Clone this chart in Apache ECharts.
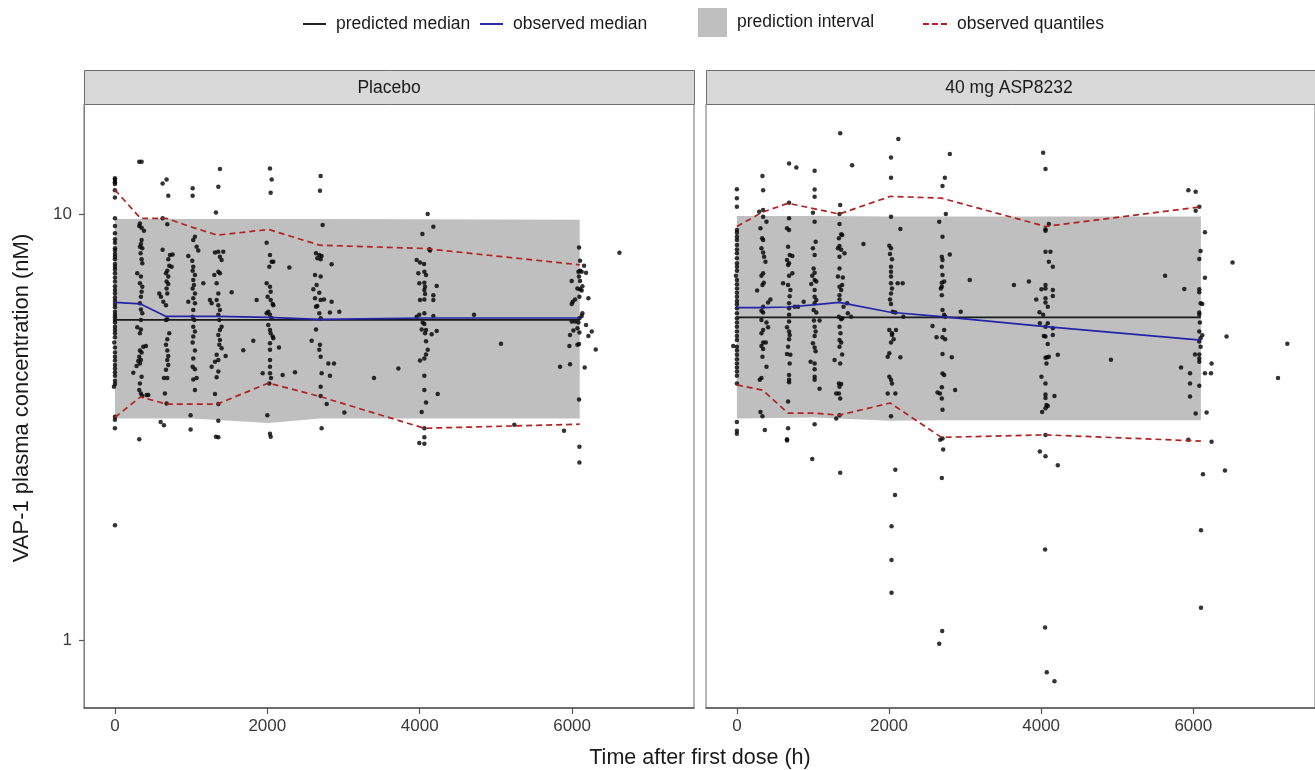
<!DOCTYPE html>
<html>
<head>
<meta charset="utf-8">
<script src="https://cdn.jsdelivr.net/npm/echarts@6/dist/echarts.min.js"></script>
<style>
  html, body {margin: 0; padding: 0; background: #fff;}
  #main {width: 1315px; height: 770px;}
</style>
</head>
<body>
<div id="main"></div>
<script>
// tick labels
var timeTicks = [0, 2000, 4000, 6000];
var concTicks = [1, 10];

// nodes of the median / quantile lines (h)
var binTimes = [0, 336, 672, 1008, 1344, 2016, 2688, 4060, 6100];

var placeboPredMedian = [5.64, 5.64, 5.64, 5.64, 5.64, 5.64, 5.64, 5.64, 5.64];
var placeboObsMedian = [6.2, 6.15, 5.75, 5.75, 5.75, 5.72, 5.66, 5.7, 5.7];
var placeboObsUpper = [11.4, 9.77, 9.77, 9.32, 8.92, 9.2, 8.45, 8.3, 7.6];
var placeboObsLower = [3.33, 3.72, 3.58, 3.58, 3.58, 4.01, 3.73, 3.14, 3.21];

var aspPredMedian = [5.72, 5.72, 5.72, 5.72, 5.72, 5.72, 5.72, 5.72, 5.72];
var aspObsMedian = [6.03, 6.03, 6.05, 6.12, 6.2, 5.88, 5.74, 5.44, 5.06];
var aspObsUpper = [9.35, 10.1, 10.6, 10.3, 10.0, 11.0, 10.9, 9.35, 10.4];
var aspObsLower = [3.97, 3.86, 3.41, 3.41, 3.37, 3.6, 2.99, 3.03, 2.93];

// prediction interval
var bandTimes = [0, 1008, 2016, 2688, 6100];
var placeboPiLower = [3.31, 3.31, 3.23, 3.31, 3.31];
var placeboPiUpper = [9.73, 9.73, 9.73, 9.73, 9.7];
var aspPiLower = [3.31, 3.33, 3.27, 3.28, 3.28];
var aspPiUpper = [9.9, 9.9, 9.87, 9.87, 9.87];

// observations [time (h), concentration (nM)]
var placeboObs = [
  [0,12.13],[0,12.02],[0,11.87],[0,11.76],[0,11.38],[0,10.94],[0,9.77],[0,9.37],[0,9.01],[0,8.72],
  [0,8.56],[0,8.31],[0,8.21],[0,8.06],[0,7.94],[0,7.83],[0,7.63],[0,7.52],[0,7.41],[0,7.26],
  [0,7.1],[0,6.94],[0,6.77],[0,6.63],[0,6.51],[0,6.37],[0,6.26],[0,6.15],[0,6.04],[0,5.9],
  [0,5.8],[0,5.72],[0,5.64],[0,5.56],[0,5.44],[0,5.34],[0,5.25],[0,5.14],[-9,4.99],[0,4.86],
  [0,4.73],[0,4.62],[0,4.53],[0,4.42],[0,4.34],[0,4.25],[0,4.17],[0,4.06],[0,3.99],[-13,3.93],
  [0,3.34],[0,3.29],[0,3.14],[0,1.86],
  [319,13.27],[350,13.27],[328,9.5],[319,9.37],[350,9.29],[381,9.14],[350,8.69],[341,8.5],[328,8.38],[359,8.31],
  [337,8.09],[350,7.83],[359,7.66],[293,7.26],[341,7.13],[328,6.88],[359,6.75],[350,6.57],[341,6.39],[328,6.17],
  [341,5.97],[359,5.85],[341,5.64],[293,5.42],[341,5.36],[328,5.25],[372,4.88],[407,4.9],[328,4.78],[350,4.73],
  [319,4.62],[341,4.54],[328,4.46],[306,4.52],[284,4.4],[241,4.24],[350,4.15],[328,4.0],[319,3.86],[341,3.79],
  [359,3.74],[416,3.76],[438,3.76],[319,2.96],
  [626,11.8],[678,12.06],[700,11.04],[626,9.77],[687,9.46],[626,8.24],[722,8.01],[757,8.04],[700,7.83],[713,7.56],
  [744,7.52],[687,7.36],[670,7.26],[700,7.13],[678,6.94],[700,6.85],[678,6.69],[687,6.51],[582,6.51],[604,6.39],
  [635,6.22],[670,6.11],[687,5.66],[670,5.64],[713,5.25],[687,5.08],[670,4.93],[687,4.78],[700,4.64],[687,4.54],
  [700,4.42],[670,4.31],[643,4.12],[687,4.12],[656,3.79],[678,3.59],[600,3.25],[643,3.19],
  [1020,11.49],[1020,11.04],[1050,8.85],[1028,8.69],[1072,8.38],[1094,8.21],[963,7.97],[1015,7.77],[1028,7.52],[1020,7.36],
  [1050,7.19],[1028,7.0],[1037,6.81],[1020,6.69],[1160,6.88],[1050,6.51],[1028,6.34],[1050,6.17],[963,6.22],[1028,5.95],
  [1020,5.74],[1042,5.64],[1028,5.44],[1050,5.3],[1028,5.16],[1020,4.99],[1050,4.78],[1028,4.58],[1020,4.38],[1050,4.32],
  [1028,4.09],[1072,4.12],[1050,3.86],[993,3.37],[993,3.12],
  [1378,12.75],[1357,11.59],[1326,10.09],[1357,8.16],[1313,8.12],[1422,8.16],[1378,7.94],[1400,7.8],[1357,7.32],[1378,7.26],
  [1304,7.19],[1335,6.88],[1357,6.51],[1335,6.28],[1247,6.28],[1269,6.17],[1357,6.11],[1378,5.95],[1357,5.8],[1370,5.64],
  [1400,5.44],[1378,5.34],[1357,5.2],[1378,5.06],[1370,4.93],[1400,4.84],[1453,4.64],[1335,4.67],[1357,4.54],[1313,4.5],
  [1269,4.38],[1357,4.27],[1335,4.14],[1313,3.78],[1357,3.58],[1357,3.27],[1326,3.0],[1357,2.99],
  [1532,6.55],[1685,4.79],[1816,5.04],[1860,6.28],[1939,4.23],[2153,4.86],[2201,4.19],[2289,7.49],[2363,4.25],
  [2035,12.8],[2057,12.06],[2044,11.22],[1991,8.56],[2035,8.01],[2057,7.73],[2079,7.73],[2026,7.52],[1991,6.88],[2035,6.75],
  [2044,6.57],[2004,6.39],[2044,6.28],[2070,6.15],[2079,6.11],[2013,5.9],[1991,5.85],[2035,5.8],[2057,5.69],[2013,5.49],
  [2035,5.34],[2044,5.25],[2070,5.16],[2079,5.11],[2035,4.97],[2035,4.8],[2035,4.54],[2035,4.38],[2035,4.23],[2048,4.12],
  [2026,4.0],[2000,3.37],[2035,3.05],[2044,3.0],
  [2700,12.28],[2691,11.34],[2726,9.42],[2639,8.09],[2682,8.01],[2713,7.97],[2656,7.87],[2700,7.83],[2844,7.62],[2626,7.19],
  [2700,7.13],[2647,6.81],[2604,6.66],[2682,6.53],[2626,6.34],[2700,6.28],[2744,6.3],[2656,6.08],[2639,6.06],[2844,6.22],
  [2822,5.87],[2945,5.9],[2682,5.85],[2700,5.69],[2639,5.36],[2582,5.04],[2691,4.93],[2682,4.8],[2700,4.62],[2801,4.46],
  [2875,4.46],[2713,4.23],[2822,4.17],[2700,3.93],[2700,3.74],[2779,3.58],[3011,3.42],[2713,3.14],
  [3400,4.12],[3720,4.34],
  [4105,10.0],[4179,9.34],[4035,8.98],[4127,8.27],[4135,8.21],[3960,7.8],[4004,7.7],[4057,7.63],[4061,7.32],[3982,7.26],
  [4083,7.19],[3995,6.88],[4061,6.9],[4070,6.75],[4061,6.63],[4223,6.78],[4070,6.49],[4179,6.45],[4004,6.28],[4061,6.3],
  [4179,6.28],[3995,5.8],[4061,5.85],[4179,5.76],[3960,5.74],[4039,5.56],[4061,5.52],[4026,5.36],[4083,5.34],[4070,5.25],
  [4157,5.22],[4223,5.31],[4083,5.03],[4105,4.8],[4083,4.68],[4061,4.58],[4004,4.53],[4061,4.17],[4061,3.86],[4236,3.78],
  [4083,3.61],[4026,3.43],[4061,3.14],[4061,2.99],[3995,2.9],[4061,2.89],
  [4713,5.8],[5067,4.96],[5242,3.2],[5894,3.1],[5842,4.38],[6621,8.11],
  [6091,8.34],[6157,7.56],[6105,7.77],[6105,7.36],[6083,7.32],[6126,7.32],[6183,7.28],[6091,7.13],[5995,6.96],[6105,6.96],
  [6135,6.77],[6070,6.69],[6105,6.66],[6126,6.61],[6214,6.34],[6096,6.39],[6039,6.3],[6009,6.22],[5995,6.15],[6135,5.85],
  [6126,5.76],[6096,5.69],[5995,5.59],[6039,5.59],[6083,5.56],[6183,5.49],[6017,5.33],[6070,5.39],[6096,5.27],[6258,5.3],
  [6214,5.17],[5973,5.2],[6091,4.95],[6070,4.93],[5964,4.9],[6310,4.81],[5973,4.44],[6165,4.36],[6091,3.67],[6096,2.84],
  [6096,2.61]
];

var aspObs = [
  [0,11.44],[0,10.89],[0,10.4],[0,9.17],[0,9.04],[0,8.85],[0,8.69],[0,8.46],[0,8.26],[0,8.09],
  [0,7.87],[0,7.66],[0,7.52],[0,7.36],[-13,7.16],[0,7.0],[0,6.84],[0,6.69],[0,6.53],[0,6.39],
  [0,6.25],[0,6.14],[0,6.01],[0,5.85],[0,5.69],[0,5.56],[0,5.44],[0,5.3],[0,5.17],[0,5.06],
  [-48,4.9],[0,4.88],[0,4.78],[0,4.67],[0,4.56],[0,4.46],[0,4.36],[0,4.27],[0,4.17],[0,4.0],
  [0,3.25],[0,3.1],[0,3.05],
  [336,12.28],[345,11.38],[293,10.13],[345,10.22],[345,9.86],[389,9.59],[310,9.26],[332,8.77],[345,8.69],[323,8.31],
  [345,8.12],[358,7.94],[376,7.73],[345,7.26],[323,7.16],[354,6.9],[336,6.81],[266,6.61],[441,6.3],[410,6.2],
  [345,6.06],[323,5.93],[345,5.87],[323,5.64],[389,5.56],[410,5.42],[345,5.34],[323,5.25],[345,4.99],[380,4.99],
  [323,4.9],[345,4.82],[336,4.62],[389,4.38],[323,4.12],[301,4.08],[310,3.43],[336,3.35],[367,3.11],
  [686,13.14],[782,12.86],[686,10.63],[686,9.77],[659,9.26],[686,9.17],[673,8.38],[694,8.01],[729,7.97],[659,7.8],
  [686,7.66],[673,7.59],[729,7.26],[686,7.16],[607,6.88],[673,6.81],[703,6.63],[694,6.41],[686,6.17],[760,6.06],
  [804,6.06],[686,6.01],[686,5.8],[686,5.59],[659,5.42],[686,5.3],[694,5.2],[686,5.08],[673,4.88],[659,4.69],
  [703,4.67],[694,4.46],[686,4.19],[686,4.08],[686,4.03],[673,3.63],[673,3.14],[659,2.96],[659,2.94],[878,6.22],
  [1022,12.64],[1022,11.42],[1022,10.98],[1000,10.07],[1022,9.59],[1035,8.61],[1000,8.31],[1022,8.01],[1009,7.45],[1022,7.28],
  [991,7.16],[1022,7.0],[1044,6.94],[978,6.85],[1022,6.63],[1022,6.39],[1044,6.28],[1022,6.17],[1009,5.95],[1044,5.87],
  [1013,5.62],[1087,5.62],[1022,5.44],[1035,5.3],[1022,5.17],[1000,4.97],[1022,4.86],[1035,4.76],[969,4.5],[1022,4.46],
  [1022,4.32],[1022,4.15],[1022,4.08],[1087,3.89],[1022,3.21],[991,2.66],
  [1358,15.47],[1515,13.02],[1358,10.5],[1349,10.0],[1349,9.47],[1371,8.96],[1384,8.93],[1341,8.77],[1349,8.41],[1328,8.31],
  [1371,8.24],[1415,8.09],[1349,7.94],[1349,7.45],[1328,7.13],[1393,7.1],[1384,6.81],[1349,6.75],[1371,6.63],[1349,6.45],
  [1349,6.3],[1450,6.17],[1402,6.06],[1341,5.74],[1371,5.66],[1384,5.69],[1502,5.74],[1459,5.85],[1349,5.44],[1362,5.25],
  [1349,5.06],[1371,4.99],[1349,4.88],[1384,4.68],[1284,4.54],[1358,4.46],[1341,4.0],[1371,3.99],[1349,3.93],[1306,3.79],
  [1341,3.79],[1358,3.69],[1306,3.31],[1349,3.37],[1358,2.47],
  [1664,8.5],[2943,5.9],[3061,7.0],[3642,6.81],
  [2026,13.58],[2122,15.0],[2026,12.17],[2026,9.86],[2149,9.22],[2004,8.43],[2026,8.31],[2013,8.06],[2039,7.83],[2026,7.52],
  [2026,7.32],[2026,7.13],[2026,6.88],[2114,6.88],[2179,6.88],[2039,6.69],[2026,6.51],[2013,6.3],[2026,6.15],[2048,5.9],
  [2083,5.87],[2188,5.74],[2004,5.34],[2039,5.25],[2039,5.2],[2061,5.08],[2026,4.99],[2092,5.34],[1983,4.62],[2004,4.71],
  [2149,4.61],[2004,4.15],[2026,4.08],[2039,4.0],[1983,3.79],[2083,3.79],[2026,3.35],[2083,2.51],[2079,2.19],[2033,1.85],
  [2033,1.54],[2033,1.29],
  [2799,13.84],[2734,12.17],[2703,11.63],[2747,10.0],[2660,9.59],[2703,8.85],[2799,8.04],[2694,7.94],[2703,7.8],[2694,7.52],
  [2703,7.19],[2694,6.9],[2725,6.94],[2694,6.75],[2681,6.69],[2694,6.45],[2703,5.95],[2725,5.8],[2738,5.74],[2572,5.46],
  [2625,5.14],[2703,5.14],[2738,5.08],[2725,5.34],[2703,4.69],[2825,4.61],[2703,4.22],[2725,4.19],[2694,3.92],[2869,3.86],
  [2638,3.81],[2669,3.79],[2694,3.69],[2703,3.47],[2673,2.95],[2703,2.97],[2712,2.8],[2694,2.4],[2699,1.05],[2660,0.98],
  [4026,13.92],[4057,12.75],[4101,9.47],[4057,9.21],[4057,9.14],[4057,8.16],[4122,8.16],[4101,7.73],[4153,7.52],[4057,6.81],
  [4057,6.69],[4004,6.66],[4153,6.63],[4153,6.42],[3935,6.3],[4057,6.34],[4057,6.2],[4087,6.06],[3978,5.88],[4026,5.8],
  [4087,5.54],[3983,5.54],[4057,5.44],[4153,5.39],[4035,5.17],[4057,5.16],[4153,5.2],[4087,4.95],[4057,4.6],[4079,4.61],
  [4101,4.62],[4219,4.67],[4070,4.46],[4004,4.15],[4057,4.0],[4057,3.77],[4175,3.74],[4057,3.7],[4070,3.56],[4087,3.54],
  [4057,3.5],[4013,3.43],[4057,3.03],[3983,2.77],[4057,2.7],[4219,2.57],[4052,1.63],[4052,1.07],[4074,0.84],[4175,0.8],
  [3839,6.94],[4917,4.55],[5629,7.16],[5882,6.67],[5839,4.36],[5935,11.38],[6031,11.28],[6516,7.7],[6437,5.16],[7114,4.12],
  [7236,4.96],
  [6079,10.4],[6031,10.18],[6153,9.06],[6096,8.19],[6079,7.84],[6153,7.09],[6079,6.66],[6079,6.55],[6096,6.17],[6118,6.15],
  [6079,5.87],[6079,5.8],[6087,5.56],[6079,5.3],[6118,5.19],[6096,5.11],[6079,5.02],[6096,4.88],[6022,4.68],[6079,4.68],
  [6079,4.58],[6079,4.5],[6240,4.46],[5957,4.23],[6153,4.23],[6232,4.23],[5957,4.0],[6079,3.95],[5957,3.73],[6031,3.4],
  [6175,3.42],[6240,2.92],[5935,2.95],[6127,2.45],[6416,2.5],[6101,1.81],[6101,1.19]
];

var FONT = '"Liberation Sans", Arial, Helvetica, sans-serif';
var TEXT = '#1a1a1a';

// legend keys: plain strokes, no symbol
var SOLID_KEY = 'path://M0,0h24v2h-24z';
var DASH_KEY = 'path://M0,0h6v2h-6zM9,0h6v2h-6zM18,0h6v2h-6z';

function pairs(xs, ys) {
  return xs.map(function (x, i) { return [x, ys[i]]; });
}

function bandSeries(idx, times, lo, hi) {
  return {
    type: 'custom',
    name: 'prediction interval',
    xAxisIndex: idx,
    yAxisIndex: idx,
    z: 1,
    silent: true,
    itemStyle: {color: '#bfbfbf'},
    data: times.map(function (t, i) { return [t, lo[i], hi[i]]; }),
    encode: {x: 0, y: [1, 2]},
    renderItem: function (params, api) {
      if (params.dataIndex !== 0) return;
      var pts = [];
      for (var i = 0; i < times.length; i++) pts.push(api.coord([times[i], hi[i]]));
      for (var j = times.length - 1; j >= 0; j--) pts.push(api.coord([times[j], lo[j]]));
      return {type: 'polygon', shape: {points: pts}, style: {fill: '#bfbfbf'}};
    }
  };
}

function lineSeries(idx, name, ys, color, type) {
  return {
    type: 'line',
    name: name,
    xAxisIndex: idx,
    yAxisIndex: idx,
    z: 4,
    symbol: 'none',
    silent: true,
    color: color,
    lineStyle: {color: color, width: 1.7, type: type || 'solid'},
    data: pairs(binTimes, ys)
  };
}

function dotSeries(idx, data) {
  return {
    type: 'scatter',
    name: 'observations',
    xAxisIndex: idx,
    yAxisIndex: idx,
    z: 3,
    symbol: 'circle',
    symbolSize: 4.5,
    silent: true,
    itemStyle: {color: '#000'},
    data: data
  };
}

function xAxis(idx) {
  return {
    type: 'value',
    gridIndex: idx,
    min: -406,
    max: 7600,
    splitLine: {show: false},
    axisLine: {show: true, onZero: false, lineStyle: {color: '#555', width: 1.5}},
    axisTick: {show: true, length: 6, customValues: timeTicks, lineStyle: {color: '#555', width: 1.2}},
    axisLabel: {
      customValues: timeTicks, margin: 10, fontSize: 17, fontFamily: FONT, color: '#3a3a3a',
      formatter: function (v) { return String(v); }
    }
  };
}

function yAxis(idx) {
  return {
    type: 'log',
    logBase: 10,
    gridIndex: idx,
    min: 0.692,
    max: 18.13,
    splitLine: {show: false},
    minorTick: {show: false},
    axisLine: {show: idx === 0, onZero: false, lineStyle: {color: '#7f7f7f', width: 1}},
    axisTick: {show: idx === 0, length: 5, customValues: concTicks, lineStyle: {color: '#555', width: 1.2}},
    axisLabel: {
      show: idx === 0, customValues: concTicks, margin: 12, fontSize: 17, fontFamily: FONT, color: '#3a3a3a',
      formatter: function (v) { return String(v); }
    }
  };
}

function legendItem(left, top, name, w, h, extra, textPad) {
  return {
    show: true,
    left: left,
    top: top,
    orient: 'horizontal',
    selectedMode: false,
    padding: 0,
    itemWidth: w,
    itemHeight: h,
    textStyle: {fontSize: 17.5, fontFamily: FONT, color: TEXT, padding: textPad || [0, 0, 0, 5]},
    data: [Object.assign({name: name}, extra || {})]
  };
}

var chart = echarts.init(document.getElementById('main'));
chart.setOption({
  animation: false,
  backgroundColor: '#fff',
  textStyle: {fontFamily: FONT},
  tooltip: {show: false},
  legend: [
    legendItem(303, 15, 'predicted median', 23, 2, {icon: SOLID_KEY, itemStyle: {color: '#1a1a1a'}}),
    legendItem(480, 15, 'observed median', 23, 2, {icon: SOLID_KEY, itemStyle: {color: '#2424a8'}}),
    legendItem(698, 8, 'prediction interval', 29, 29, {icon: 'rect', itemStyle: {color: '#bfbfbf'}}, [6, 0, 0, 5]),
    legendItem(923, 15, 'observed quantiles', 24, 2, {icon: DASH_KEY, itemStyle: {color: '#b22222'}})
  ],
  grid: [
    {left: 84, top: 104, width: 610, height: 604, show: true, borderColor: '#6e6e6e', borderWidth: 1},
    {left: 706, top: 104, width: 610, height: 604, show: true, borderColor: '#6e6e6e', borderWidth: 1}
  ],
  xAxis: [xAxis(0), xAxis(1)],
  yAxis: [yAxis(0), yAxis(1)],
  series: [
    bandSeries(0, bandTimes, placeboPiLower, placeboPiUpper),
    bandSeries(1, bandTimes, aspPiLower, aspPiUpper),
    dotSeries(0, placeboObs),
    dotSeries(1, aspObs),
    lineSeries(0, 'predicted median', placeboPredMedian, '#1a1a1a'),
    lineSeries(1, 'predicted median', aspPredMedian, '#1a1a1a'),
    lineSeries(0, 'observed median', placeboObsMedian, '#2424a8'),
    lineSeries(1, 'observed median', aspObsMedian, '#2424a8'),
    lineSeries(0, 'observed quantiles', placeboObsUpper, '#b22222', [6, 4]),
    lineSeries(0, 'observed quantiles', placeboObsLower, '#b22222', [6, 4]),
    lineSeries(1, 'observed quantiles', aspObsUpper, '#b22222', [6, 4]),
    lineSeries(1, 'observed quantiles', aspObsLower, '#b22222', [6, 4])
  ],
  graphic: [
    {type: 'rect', shape: {x: 84.5, y: 70.5, width: 610, height: 34},
      style: {fill: '#d9d9d9', stroke: '#6e6e6e', lineWidth: 1}},
    {type: 'rect', shape: {x: 706.5, y: 70.5, width: 610, height: 34},
      style: {fill: '#d9d9d9', stroke: '#6e6e6e', lineWidth: 1}},
    {type: 'text', x: 389, y: 88,
      style: {text: 'Placebo', fontSize: 17.5, fontFamily: FONT, fill: TEXT,
        align: 'center', verticalAlign: 'middle', textAlign: 'center', textVerticalAlign: 'middle'}},
    {type: 'text', x: 1009, y: 88,
      style: {text: '40 mg ASP8232', fontSize: 17.5, fontFamily: FONT, fill: TEXT,
        align: 'center', verticalAlign: 'middle', textAlign: 'center', textVerticalAlign: 'middle'}},
    {type: 'text', x: 700, y: 758,
      style: {text: 'Time after first dose (h)', fontSize: 21.5, fontFamily: FONT, fill: TEXT,
        align: 'center', verticalAlign: 'middle', textAlign: 'center', textVerticalAlign: 'middle'}},
    {type: 'text', x: 22, y: 398, rotation: Math.PI / 2,
      style: {text: 'VAP-1 plasma concentration (nM)', fontSize: 22, fontFamily: FONT, fill: TEXT,
        align: 'center', verticalAlign: 'middle', textAlign: 'center', textVerticalAlign: 'middle'}}
  ]
});
</script>
</body>
</html>
